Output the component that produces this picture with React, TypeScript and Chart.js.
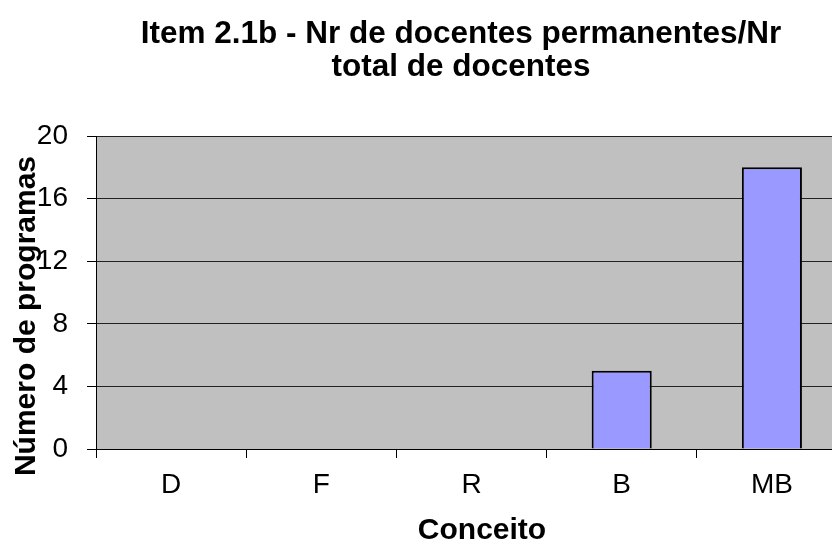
import React, { useEffect, useRef } from "react";
import { Chart, registerables } from "chart.js";

Chart.register(...registerables);

const categories = ["D", "F", "R", "B", "MB"];
const programCounts = [0, 0, 0, 5, 18];
const titleLines = ["Item 2.1b - Nr de docentes permanentes/Nr", "total de docentes"];
const yAxisTitle = "Número de programas";
const xAxisTitle = "Conceito";

const FONT = "'Liberation Sans', Arial, sans-serif";

export default function App() {
  const ref = useRef<HTMLCanvasElement | null>(null);

  useEffect(() => {
    const canvas = ref.current;
    if (!canvas) return;

    const decor = {
      id: "decor",
      beforeDraw(chart: any) {
        const { ctx, chartArea } = chart;
        ctx.save();
        ctx.fillStyle = "#C0C0C0";
        ctx.fillRect(chartArea.left, chartArea.top, chartArea.right - chartArea.left, chartArea.bottom - chartArea.top);
        ctx.restore();
      },
      afterDraw(chart: any) {
        const { ctx } = chart;
        ctx.save();
        ctx.fillStyle = "#000";
        ctx.font = `bold 31.5px ${FONT}`;
        ctx.textAlign = "center";
        ctx.textBaseline = "alphabetic";
        ctx.fillText(titleLines[0], 453, 35);
        ctx.fillText(titleLines[1], 453, 68);

        ctx.font = `bold 30px ${FONT}`;
        ctx.fillText(xAxisTitle, 474, 531);

        ctx.translate(27, 308);
        ctx.rotate(-Math.PI / 2);
        ctx.fillText(yAxisTitle, 0, 0);
        ctx.restore();
      },
    };

    const chart = new Chart(canvas, {
      type: "bar",
      data: {
        labels: categories,
        datasets: [
          {
            data: programCounts,
            backgroundColor: "#9999FF",
            borderColor: "#000000",
            borderWidth: 2,
            barPercentage: 0.4,
            categoryPercentage: 1,
          },
        ],
      },
      options: {
        responsive: false,
        animation: false,
        events: [],
        layout: { padding: { left: 0, right: 11, top: 128, bottom: 0 } },
        plugins: {
          legend: { display: false },
          title: { display: false },
          tooltip: { enabled: false },
        },
        scales: {
          x: {
            offset: true,
            grid: {
              offset: true,
              drawOnChartArea: false,
              drawTicks: true,
              tickLength: 9,
              tickColor: "#000",
            },
            border: { display: true, color: "#000", width: 1 },
            ticks: {
              color: "#000",
              font: { family: FONT, size: 28 },
              padding: 10,
              maxRotation: 0,
            },
            afterFit(scale: any) {
              scale.height = 93;
            },
          },
          y: {
            min: 0,
            max: 20,
            grid: {
              color: "#222",
              lineWidth: 1,
              drawTicks: true,
              tickLength: 9,
              tickColor: "#000",
            },
            border: { display: true, color: "#000", width: 1 },
            ticks: {
              stepSize: 4,
              color: "#000",
              font: { family: FONT, size: 28 },
              padding: 19,
            },
            afterFit(scale: any) {
              scale.width = 88;
            },
          },
        },
      },
      plugins: [decor],
    });

    return () => chart.destroy();
  }, []);

  return (
    <div style={{ width: 832, height: 534, overflow: "hidden" }}>
      <canvas ref={ref} width={850} height={534} style={{ width: 850, height: 534, display: "block" }} />
    </div>
  );
}
